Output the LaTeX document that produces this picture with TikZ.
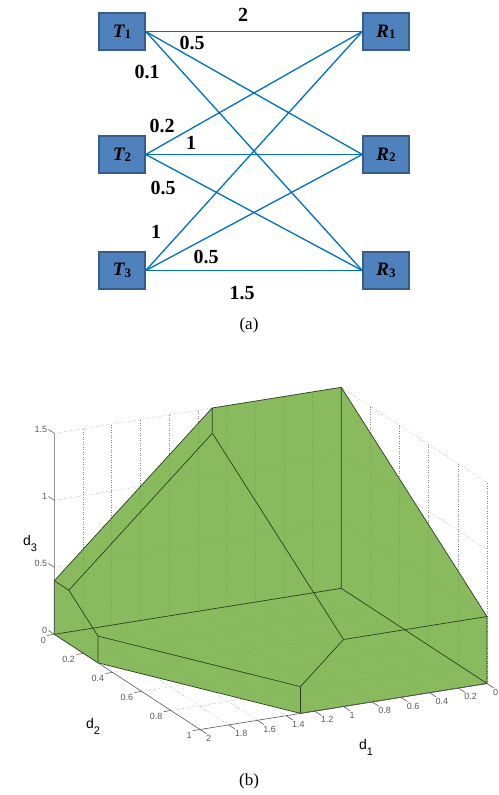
\documentclass[tikz,border=0pt]{standalone}
\usepackage{fontspec}
\setmainfont{Liberation Serif}
\setsansfont{Liberation Sans}

\definecolor{boxblue}{RGB}{79,129,189}
\definecolor{boxrim}{RGB}{56,93,138}
\definecolor{linkblue}{RGB}{0,112,192}
\definecolor{regiongreen}{RGB}{116,174,66}
\definecolor{ridge}{RGB}{45,62,35}

% station label: bold italic letter, lowered bold index
\newcommand{\stlab}[2]{{\fontsize{19}{19}\selectfont\bfseries\itshape #1}\raisebox{-0.3ex}{\fontsize{13}{13}\selectfont\bfseries #2}}
% axis name with lowered index
\newcommand{\axname}[1]{d\raisebox{-6pt}{\fontsize{11}{11}\selectfont #1}}

\begin{document}
\begin{tikzpicture}[x=1pt, y=-1pt, line width=0.5pt,
  station/.style={draw=boxrim, line width=1.5pt, fill=boxblue, minimum width=46pt, minimum height=37pt, inner sep=0pt},
  link/.style={draw=linkblue, line width=1.3pt},
  gain/.style={font=\fontsize{20}{20}\selectfont\bfseries, inner sep=0pt},
  caption/.style={font=\fontsize{17}{17}\selectfont, inner sep=0pt},
  grid3/.style={black!50, dotted, line width=0.5pt},
  axis3/.style={black!65, line width=0.6pt},
  ridge3/.style={ridge, line width=0.7pt, line join=round},
  tick3/.style={font=\sffamily\fontsize{9}{9}\selectfont, inner sep=1pt},
  axlab/.style={font=\sffamily\fontsize{14}{14}\selectfont, inner sep=0pt}]
  \useasboundingbox (0,0) rectangle (498,795);

  % (a) transmitters and receivers
  \node[station] (T1) at (122,31.5) {\stlab{T}{1}};
  \node[station] (T2) at (122,154.5) {\stlab{T}{2}};
  \node[station] (T3) at (122,270.5) {\stlab{T}{3}};
  \node[station] (R1) at (386,31.5) {\stlab{R}{1}};
  \node[station] (R2) at (386,154.5) {\stlab{R}{2}};
  \node[station] (R3) at (386,270.5) {\stlab{R}{3}};
  \foreach \t in {1,2,3}
    \foreach \r in {1,2,3}
      \draw[link] (T\t.east) -- (R\r.west);
  \node[gain] (g11) at (243,15) {2};
  \node[gain] (g12) at (192,43) {0.5};
  \node[gain] (g13) at (147,72) {0.1};
  \node[gain] (g21) at (162,126) {0.2};
  \node[gain] (g22) at (191,143) {1};
  \node[gain] (g23) at (163,188) {0.5};
  \node[gain] (g31) at (156,232) {1};
  \node[gain] (g32) at (206,257) {0.5};
  \node[gain] (g33) at (242,293) {1.5};
  \node[caption] (capa) at (249,325) {(a)};

  % (b) region in (d1,d2,d3)
  \coordinate (B) at (341.3,588.3);
  \begin{scope}[shift={(B)}, x={(-143.5pt,-23pt)}, y={(145.7pt,-95.2pt)}, z={(0pt,134pt)}]
    % grid on the back walls and the floor
    \foreach \u in {0.2,0.4,0.6,0.8,1,1.2,1.4,1.6,1.8} {
      \draw[grid3] (\u,0,0) -- (\u,0,1.5);
      \draw[grid3] (\u,0,0) -- (\u,1,0);
    }
    \foreach \v in {0.2,0.4,0.6,0.8,1}
      \draw[grid3] (0,\v,0) -- (0,\v,1.5);
    \foreach \v in {0.2,0.4,0.6,0.8}
      \draw[grid3] (0,\v,0) -- (2,\v,0);
    \foreach \h in {0.5,1,1.5}
      \draw[grid3] (2,0,\h) -- (0,0,\h) -- (0,1,\h);

    \coordinate (P0) at (0,0,0);
    \coordinate (P1) at (2,0,0);
    \coordinate (P2) at (2,0,0.4);
    \coordinate (P3) at (0.9,0,1.5);
    \coordinate (P4) at (0,0,1.5);
    \coordinate (P5) at (0,1,0.5);
    \coordinate (P6) at (0,1,0);
    \coordinate (P7) at (1.3,1,0);
    \coordinate (P8) at (2,0.3,0);
    \coordinate (P9) at (2,0.1,0.4);
    \coordinate (P10) at (2,0.3,0.2);
    \coordinate (P11) at (1.3,1,0.2);
    \coordinate (P12) at (1,1,0.5);
    \coordinate (P13) at (1,0.1,1.4);

    \fill[regiongreen, fill opacity=0.85] (P1) -- (P2) -- (P3) -- (P4) -- (P5) -- (P6) -- (P7) -- (P8) -- cycle;
    \draw[ridge3] (P1) -- (P2) -- (P3) -- (P4) -- (P5) -- (P6) -- (P7) -- (P8) -- cycle;
    \draw[ridge3] (P1) -- (P0) -- (P4);
    \draw[ridge3] (P0) -- (P6);
    \draw[ridge3] (P2) -- (P9) -- (P10) -- (P8);
    \draw[ridge3] (P3) -- (P13) -- (P9);
    \draw[ridge3] (P13) -- (P12) -- (P5);
    \draw[ridge3] (P12) -- (P11) -- (P7);
    \draw[ridge3] (P11) -- (P10);

    % axes with ticks
    \draw[axis3] (2,0,1.5) -- (2,0,0) -- (2,1,0) -- (0,1,0);
    \foreach \h [count=\i] in {0,0.5,1,1.5}
      \draw[axis3] (2,0,\h) -- (2,-0.04,\h) node[tick3, anchor=east] (zt\i) {\h};
    \foreach \v [count=\i] in {0,0.2,0.4,0.6,0.8,1}
      \draw[axis3] (2,\v,0) -- (2.05,\v,0) node[tick3, anchor=north east] (yt\i) {\v};
    \foreach \u [count=\i] in {0,0.2,0.4,0.6,0.8,1,1.2,1.4,1.6,1.8,2}
      \draw[axis3] (\u,1,0) -- (\u,1.045,0) node[tick3, anchor=north west, xshift=-1.8pt] (xt\i) {\u};
  \end{scope}
  \node[axlab] (d1lab) at (366,747) {\axname{1}};
  \node[axlab] (d2lab) at (93,726) {\axname{2}};
  \node[axlab] (d3lab) at (30,543) {\axname{3}};
  \node[caption] (capb) at (249,781) {(b)};
\end{tikzpicture}
\end{document}
